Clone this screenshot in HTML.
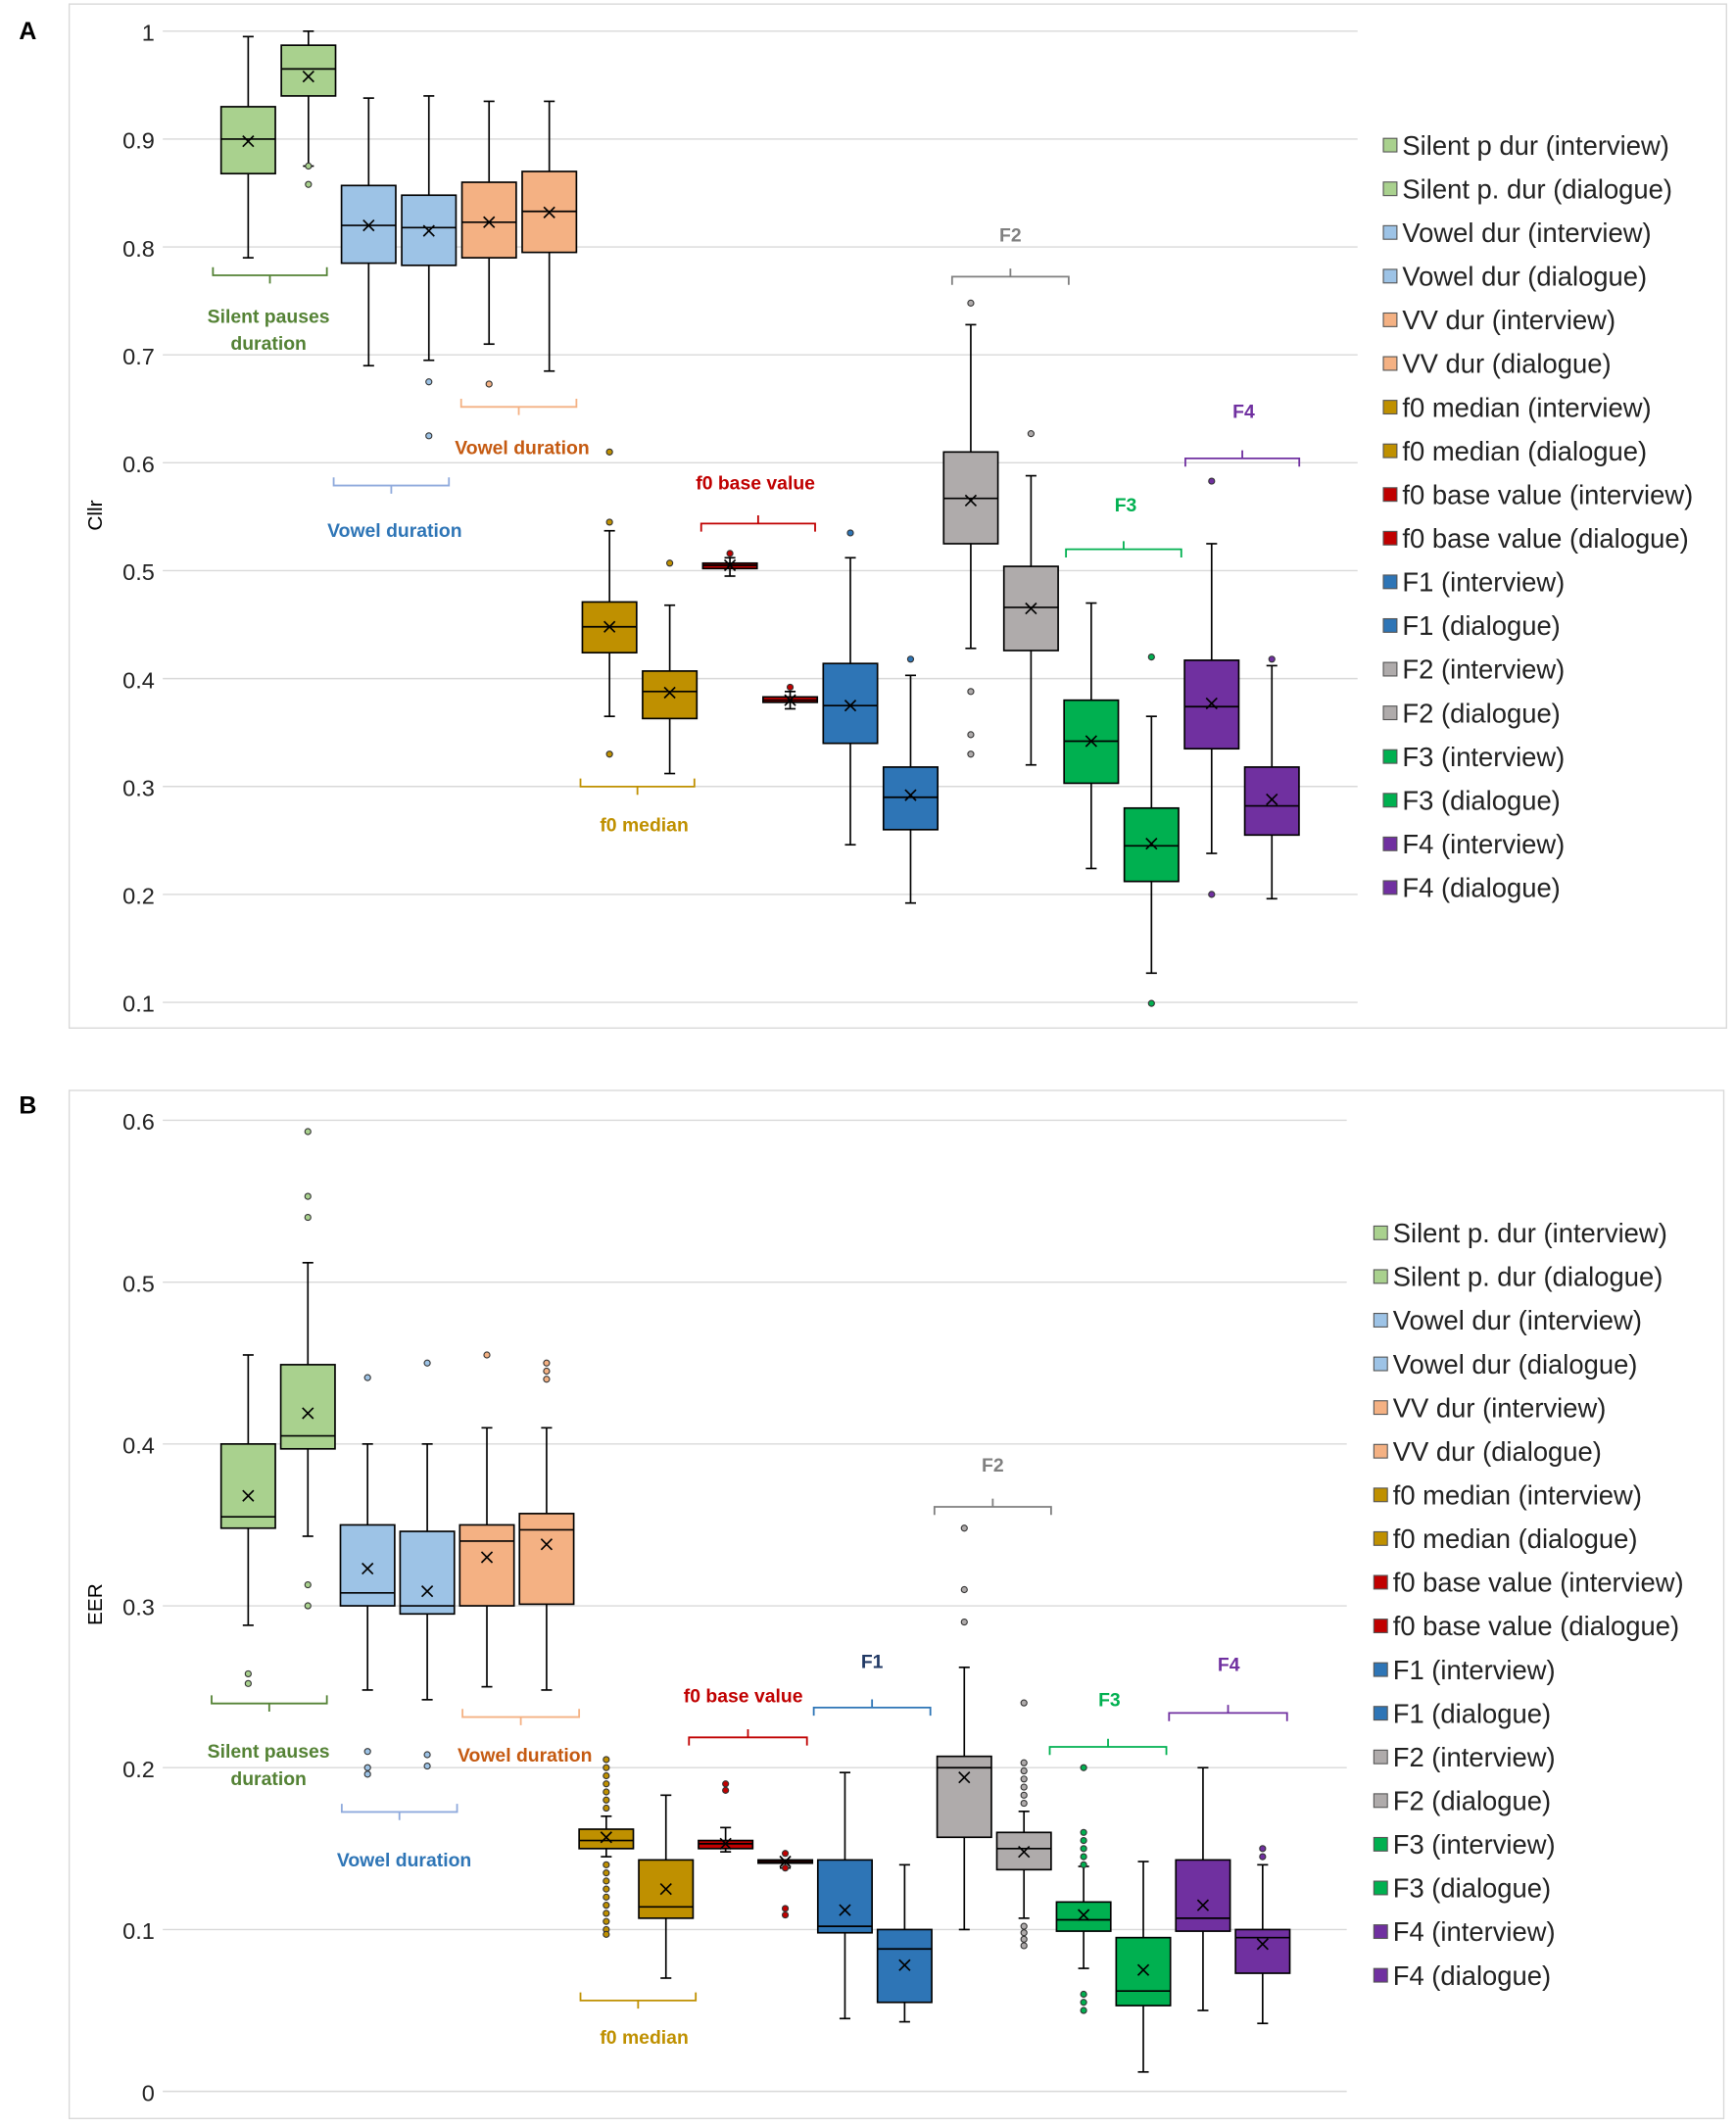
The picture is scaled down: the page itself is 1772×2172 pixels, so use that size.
<!DOCTYPE html>
<html><head><meta charset="utf-8"><style>
html,body{margin:0;padding:0;background:#fff}
svg{display:block;font-family:"Liberation Sans",sans-serif}
</style></head><body>
<svg id="chart" width="1772" height="2172" viewBox="0 0 1280 1569" xmlns="http://www.w3.org/2000/svg">
<rect x="0" y="0" width="1280" height="1569" fill="#fff"/>
<rect x="51" y="3" width="1222" height="755" fill="none" stroke="#d9d9d9"/>
<rect x="51" y="804" width="1220" height="758" fill="none" stroke="#d9d9d9"/>
<text x="14" y="29" font-size="18" font-weight="bold">A</text>
<text x="14" y="821" font-size="18" font-weight="bold">B</text>
<text transform="translate(75,380) rotate(-90)" font-size="15" text-anchor="middle">Cllr</text>
<text transform="translate(75,1183) rotate(-90)" font-size="15" text-anchor="middle">EER</text>
<g id="gA"></g><g id="gB"></g>
</svg>
<script>
const colors = ["#a9d18e","#a9d18e","#9dc3e6","#9dc3e6","#f4b183","#f4b183","#bf9000","#bf9000","#c00000","#c00000","#2e75b6","#2e75b6","#afabab","#afabab","#00b050","#00b050","#7030a0","#7030a0"];
const legendA = ["Silent p dur (interview)","Silent p. dur (dialogue)","Vowel dur (interview)","Vowel dur (dialogue)","VV dur (interview)","VV dur (dialogue)","f0 median (interview)","f0 median (dialogue)","f0 base value (interview)","f0 base value (dialogue)","F1 (interview)","F1 (dialogue)","F2 (interview)","F2 (dialogue)","F3 (interview)","F3 (dialogue)","F4 (interview)","F4 (dialogue)"];
const legendB = ["Silent p. dur  (interview)","Silent p. dur (dialogue)","Vowel dur  (interview)","Vowel dur (dialogue)","VV dur  (interview)","VV dur (dialogue)","f0 median  (interview)","f0 median (dialogue)","f0 base value  (interview)","f0 base value (dialogue)","F1  (interview)","F1 (dialogue)","F2  (interview)","F2 (dialogue)","F3  (interview)","F3 (dialogue)","F4  (interview)","F4 (dialogue)"];
const ticksA = ["0.1","0.2","0.3","0.4","0.5","0.6","0.7","0.8","0.9","1"];
const ticksB = ["0","0.1","0.2","0.3","0.4","0.5","0.6"];
// [whiskerLow, q1, median, q3, whiskerHigh, mean]
const statsA = [[0.79,0.868,0.9,0.93,0.995,0.898],[0.875,0.94,0.965,0.987,1.0,0.958],[0.69,0.785,0.82,0.857,0.938,0.82],[0.695,0.783,0.818,0.848,0.94,0.815],[0.71,0.79,0.823,0.86,0.935,0.823],[0.685,0.795,0.833,0.87,0.935,0.832],[0.365,0.424,0.448,0.471,0.537,0.448],[0.312,0.363,0.388,0.407,0.468,0.387],[0.495,0.502,0.505,0.507,0.512,0.505],[0.372,0.378,0.38,0.383,0.388,0.38],[0.246,0.34,0.375,0.414,0.512,0.375],[0.192,0.26,0.29,0.318,0.403,0.292],[0.428,0.525,0.567,0.61,0.728,0.565],[0.32,0.426,0.466,0.504,0.588,0.465],[0.224,0.303,0.342,0.38,0.47,0.342],[0.127,0.212,0.245,0.28,0.365,0.247],[0.238,0.335,0.374,0.417,0.525,0.377],[0.196,0.255,0.282,0.318,0.412,0.288]];
const outliersA = [[],[0.858,0.875],[],[0.675,0.625],[0.673],[],[0.61,0.545,0.33],[0.507],[0.516],[0.392],[0.535],[0.418],[0.748,0.388,0.348,0.33],[0.627],[],[0.42,0.099],[0.583,0.2],[0.418]];
const statsB = [[0.288,0.348,0.355,0.40,0.455,0.368],[0.343,0.397,0.405,0.449,0.512,0.419],[0.248,0.30,0.308,0.35,0.40,0.323],[0.242,0.295,0.30,0.346,0.40,0.309],[0.25,0.30,0.34,0.35,0.41,0.33],[0.248,0.301,0.347,0.357,0.41,0.338],[0.145,0.15,0.155,0.162,0.17,0.157],[0.07,0.107,0.114,0.143,0.183,0.125],[0.148,0.15,0.153,0.155,0.163,0.153],[0.138,0.141,0.142,0.143,0.143,0.142],[0.045,0.098,0.102,0.143,0.197,0.112],[0.043,0.055,0.088,0.10,0.14,0.078],[0.10,0.157,0.2,0.207,0.262,0.194],[0.107,0.137,0.15,0.16,0.173,0.148],[0.076,0.099,0.106,0.117,0.139,0.109],[0.012,0.053,0.062,0.095,0.142,0.075],[0.05,0.099,0.107,0.143,0.2,0.115],[0.042,0.073,0.095,0.10,0.14,0.091]];
const outliersB = [[0.258,0.252],[0.593,0.553,0.540,0.313,0.300],[0.441,0.21,0.2,0.196],[0.45,0.208,0.201],[0.455],[0.44,0.445,0.45],[0.205,0.2,0.195,0.19,0.185,0.18,0.175,0.14,0.135,0.13,0.125,0.12,0.115,0.11,0.105,0.1,0.097],[],[0.19,0.186],[0.147,0.138,0.113,0.109],[],[],[0.29,0.31,0.348],[0.24,0.203,0.198,0.193,0.188,0.183,0.178,0.102,0.098,0.094,0.09],[0.20,0.16,0.155,0.15,0.145,0.14,0.06,0.055,0.05],[],[],[0.15,0.145]];
const annotA = [["Silent pauses|duration","#548235","#548235",157,241,203,false,198,238],["Vowel duration","#2e75b6","#8faadc",246,331,358,false,291,396],["Vowel duration","#c55a11","#f4b183",340,425,300,false,385,335],["f0 base value","#c00000","#c00000",517,601,386,true,557,361],["f0 median","#bf9000","#bf9000",428,512,580,false,475,613],["F2","#7f7f7f","#7f7f7f",702,788,204,true,745,178],["F3","#00b050","#00b050",786,871,405,true,830,377],["F4","#7030a0","#7030a0",874,958,338,true,917,308]];
const annotB = [["Silent pauses|duration","#548235","#548235",156,241,1256,false,198,1296],["Vowel duration","#2e75b6","#8faadc",252,337,1336,false,298,1376],["Vowel duration","#c55a11","#f4b183",341,427,1266,false,387,1299],["f0 median","#bf9000","#bf9000",428,513,1475,false,475,1507],["f0 base value","#c00000","#c00000",508,595,1281,true,548,1255],["F1","#203864","#2e75b6",600,686,1259,true,643,1230],["F2","#7f7f7f","#7f7f7f",689,775,1111,true,732,1085],["F3","#00b050","#00b050",774,860,1288,true,818,1258],["F4","#7030a0","#7030a0",862,949,1263,true,906,1232]];

const NS="http://www.w3.org/2000/svg";
function mk(parent,tag,attrs,text){const e=document.createElementNS(NS,tag);for(const k in attrs)e.setAttribute(k,attrs[k]);if(text!==undefined)e.textContent=text;parent.appendChild(e);return e;}

function panel(g,cfg){
  const y=v=>cfg.y0+(v-cfg.vmin)/(cfg.vmax-cfg.vmin)*(cfg.y1-cfg.y0);
  const x=i=>cfg.x0+i*cfg.step;
  cfg.ticks.forEach(t=>{
    const v=parseFloat(t);
    const l=mk(g,'line',{x1:120,x2:cfg.gx2,y1:y(v),y2:y(v),stroke:'#d9d9d9','stroke-width':1});
    
    
    const tx=mk(g,'text',{x:114,y:y(v)+7,'font-size':17,'text-anchor':'end',fill:'#222'},t);
    
    
  });
  cfg.stats.forEach((s,i)=>{
    const cx=x(i),w=40,c=colors[i];
    const bg=mk(g,'g',{});
    
    
    mk(bg,'line',{x1:cx,x2:cx,y1:y(s[0]),y2:y(s[1]),stroke:'#000','stroke-width':1.2});
    mk(bg,'line',{x1:cx,x2:cx,y1:y(s[3]),y2:y(s[4]),stroke:'#000','stroke-width':1.2});
    mk(bg,'line',{x1:cx-4,x2:cx+4,y1:y(s[0]),y2:y(s[0]),stroke:'#000','stroke-width':1.2});
    mk(bg,'line',{x1:cx-4,x2:cx+4,y1:y(s[4]),y2:y(s[4]),stroke:'#000','stroke-width':1.2});
    mk(bg,'rect',{x:cx-w/2,y:y(s[3]),width:w,height:Math.max(1,y(s[1])-y(s[3])),fill:c,stroke:'#000','stroke-width':1.2});
    mk(bg,'line',{x1:cx-w/2,x2:cx+w/2,y1:y(s[2]),y2:y(s[2]),stroke:'#000','stroke-width':1.2});
    const m=y(s[5]);
    mk(bg,'path',{d:`M${cx-4},${m-4}L${cx+4},${m+4}M${cx-4},${m+4}L${cx+4},${m-4}`,stroke:'#000','stroke-width':1.2});
    cfg.outliers[i].forEach(o=>{
      const p=mk(bg,'circle',{cx:cx,cy:y(o),r:2.2,fill:c,stroke:'#333','stroke-width':0.8});
      
      
    });
  });
  cfg.legend.forEach((t,i)=>{
    const ly=cfg.ly0+i*cfg.lstep;
    const lg=mk(g,'g',{});
    
    
    mk(lg,'rect',{x:cfg.lx,y:ly-6,width:10,height:10,fill:colors[i],stroke:'#555','stroke-width':0.8});
    mk(lg,'text',{x:cfg.lx+14,y:ly+6,'font-size':19.8,fill:'#222','xml:space':'preserve'},t);
  });
  cfg.annot.forEach(a=>{
    const ag=mk(g,'g',{});
    
    
    const [lab,tc,bc,xa,xb,by,top,tx,ty]=a;
    const d=top?`M${xa},${by+6}V${by}H${xb}V${by+6}M${(xa+xb)/2},${by}V${by-6}`:`M${xa},${by-6}V${by}H${xb}V${by-6}M${(xa+xb)/2},${by}V${by+6}`;
    mk(ag,'path',{d:d,fill:'none',stroke:bc,'stroke-width':1.3});
    lab.split('|').forEach((p,k)=>mk(ag,'text',{x:tx,y:ty+k*20,'font-size':14,'font-weight':'bold',fill:tc,'text-anchor':'middle'},p));
  });
}
panel(document.getElementById('gA'),{y0:739,y1:23,vmin:0.1,vmax:1.0,x0:183,step:44.4,gx2:1001,ticks:ticksA,stats:statsA,outliers:outliersA,legend:legendA,lx:1020,ly0:108,lstep:32.2,annot:annotA});
panel(document.getElementById('gB'),{y0:1542,y1:826,vmin:0,vmax:0.6,x0:183,step:44,gx2:993,ticks:ticksB,stats:statsB,outliers:outliersB,legend:legendB,lx:1013,ly0:910,lstep:32.2,annot:annotB});
</script>
</body></html>
